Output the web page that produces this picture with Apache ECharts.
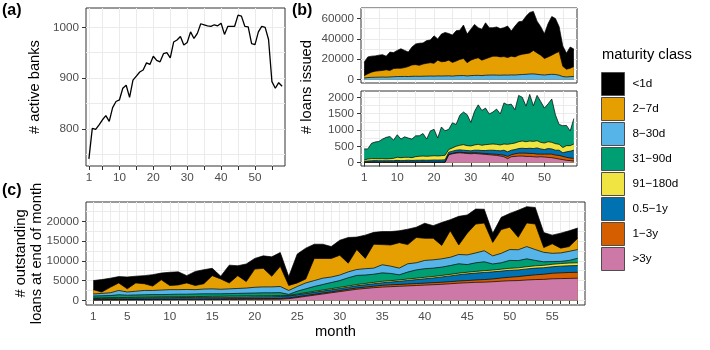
<!DOCTYPE html>
<html lang="en">
<head>
<meta charset="UTF-8">
<title>maturity classes</title>
<script src="https://cdn.jsdelivr.net/npm/echarts@6/dist/echarts.min.js"></script>
<style>html,body{margin:0;padding:0;background:#fff;}</style>
</head>
<body>
<div id="box" style="width:710px;height:350px;"></div>
<script>
var months = [];
for (var i = 1; i <= 58; i++) months.push(i);

var classNames = ['<1d', '2\u22127d', '8\u221230d', '31\u221290d', '91\u2212180d', '0.5\u22121y', '1\u22123y', '>3y'];
var classColors = ['#000000', '#E69F00', '#56B4E9', '#009E73', '#F0E442', '#0072B2', '#D55E00', '#CC79A7'];

// (a) active banks
var activeBanks = [741,801,799,808,818,826,815,842,854,857, 880,886,862,896,904,912,916,930,927,943,
    935,932,948,950,940,971,975,982,965,970, 991,978,988,1007,1005,1003,1002,1005,1003,1008,
    986,1002,1002,1002,1024,1022,1002,1001,968,966, 991,1002,1000,976,893,880,891,884];

// (b) loans issued, short maturities (upper panel)
var issuedLt1d = [13200,16600,15700,15000,15400,15500,13400,18000,15700,17500, 19100,16900,14200,17600,20300,21700,20700,22300,22400,27000,
    20900,27200,28400,26200,26800,29800,28700,32900,28100,30400, 33800,29600,30400,35400,29300,28000,28700,27800,28400,30900,
    24800,30300,32800,32500,36700,39800,38300,31200,28000,24300, 32700,38000,34000,24500,20000,15800,20800,17200];
var issued2to7d = [2300,3700,5100,6000,6200,6500,7200,6400,8000,8200, 8200,8700,9800,11200,11400,10800,12000,12600,13100,12600,
    15500,14000,14300,15400,13500,14400,15900,16700,13000,15200, 16300,17200,15200,16100,17300,18500,18600,18000,18100,17300,
    18400,17800,19200,19900,20300,20700,23100,21000,19200,16200, 17400,18800,21000,23200,10000,7600,8300,9700];
var issued8to30d = [1500,2000,2200,2300,2400,2500,2400,2600,2800,3000, 3000,3100,3000,3200,3300,3200,3300,3400,3500,3400,
    3600,3500,3600,3700,3400,3800,3900,4000,3600,3900, 4100,4200,3900,4300,4400,4500,4400,4300,4500,4400,
    4600,4500,4800,5000,5200,5500,5600,5200,4800,4500, 4900,5200,5000,4300,3000,2600,2900,3100];

// (b) loans issued, longer maturities (lower panel)
var issued31to90d = [340,310,470,510,530,600,660,680,560,690, 570,630,590,570,640,630,690,530,770,810,
    550,880,750,620,770,670,920,1000,950,720, 1030,1210,1070,1120,930,980,1080,950,1260,1210,
    1210,1020,1420,1340,1090,1430,1090,1390,1250,1070, 1160,1330,880,610,670,620,450,780];
var issued91to180d = [40,60,65,60,60,60,55,60,70,95, 90,95,90,85,110,120,125,120,125,130,
    125,130,140,80,100,120,140,170,150,150, 160,180,160,180,180,190,190,180,190,230,
    200,200,210,220,210,220,220,220,200,200, 210,200,200,180,160,190,170,190];
var issued05to1y = [25,35,40,45,45,45,40,45,45,50, 45,50,55,50,55,55,60,55,60,65,
    60,65,65,65,65,70,70,70,70,65, 75,85,85,90,110,120,115,120,150,140,
    140,130,140,150,140,160,150,190,160,140, 170,160,150,160,110,170,210,250];
var issued1to3y = [10,10,12,10,8,10,12,10,10,12, 10,10,12,10,10,12,10,12,10,10,
    12,10,12,15,15,20,20,20,20,25, 25,25,25,30,30,30,35,40,50,70,
    60,80,90,90,100,90,100,90,80,90, 100,110,100,110,100,90,80,80];
var issuedGt3y = [4,5,5,6,5,5,6,5,5,6, 5,5,6,5,6,5,6,5,6,5,
    6,6,8,240,270,290,300,290,280,270, 280,270,260,250,240,230,220,200,180,120,
    180,190,200,200,190,190,180,170,180,170, 160,150,130,110,90,70,60,50];

// (c) outstanding loans at end of month
var outLt1d = [2300,3150,2300,1600,3000,1700,2050,2900,1700,3350, 3300,1850,3550,3550,1850,700,4500,2500,4450,2700,
    3150,4900,3500,2250,7300,7800,3600,3600,3000,3800, 6500,3150,5900,3000,3300,3400,3000,3900,2600,3800,
    3200,5800,2800,7250,4600,3800,3500,2300,3100,3500, 6850,4100,4200,3800,2200,3800,4000,2600];
var out2to7d = [1100,350,1400,1900,800,2100,1700,1100,2600,1050, 1200,1650,1050,1350,3350,2600,1500,3250,1650,4600,
    4700,2700,5100,1250,900,1000,5600,5000,4700,5000, 2200,5050,2600,6050,5100,5350,6450,4850,6400,5600,
    5450,3400,6700,2400,5500,7300,7000,3400,6000,5650, 3150,6000,6450,1200,2400,1200,1200,2850];
var out8to30d = [500,600,700,1100,800,950,1100,1050,1150,1200, 1150,1200,1100,1200,1250,1150,1200,1250,1300,1450,
    1500,1500,1550,1000,1200,1500,1500,1600,1400,1400, 1500,1500,1600,1550,2050,1850,1700,2100,1800,2100,
    2100,2100,2100,2350,2450,2500,2800,2050,2400,2750, 2750,3100,2750,2400,2100,2150,2300,2200];
var out31to90d = [510,510,520,700,580,590,610,630,600,640, 640,630,650,670,640,630,630,670,680,710,
    740,710,720,260,710,960,1220,1390,1560,1720, 2070,2310,2150,2070,2150,1820,1280,1760,2100,2180,
    2120,2100,2240,2370,1950,2180,2260,1540,1620,2000, 1830,2000,1370,900,680,550,670,1150];
var out91to180d = [150,160,170,170,180,180,190,190,200,200, 210,210,220,220,230,230,240,240,250,250,
    260,260,270,150,200,230,250,270,280,290, 300,310,320,340,350,350,350,360,360,370,
    370,380,380,390,400,420,440,460,480,500, 520,550,580,600,620,650,680,700];
var out05to1y = [300,320,330,350,340,360,370,380,380,390, 400,400,410,420,420,430,440,440,450,460,
    460,470,480,470,480,490,500,500,510,520, 530,560,590,620,650,720,800,900,1000,1100,
    1200,1350,1450,1600,1700,1750,1800,1800,1750,1750, 1700,1700,1700,1650,1650,1700,1700,1700];
var out1to3y = [80,90,100,100,110,110,120,120,130,130, 140,140,150,150,160,160,170,170,180,180,
    190,190,200,200,210,220,230,240,250,270, 300,320,340,370,450,460,470,480,490,500,
    510,520,530,540,550,600,650,700,800,900, 1000,1100,1200,1300,1400,1450,1500,1500];
var outGt3y = [60,70,80,80,90,110,110,130,140,140, 160,170,170,190,200,200,220,230,240,250,
    250,270,280,420,700,1000,1300,1600,1900,2200, 2500,2800,3000,3200,3350,3450,3550,3650,3750,3850,
    3950,4050,4200,4350,4450,4550,4600,4700,4850,4950, 5000,5150,5250,5300,5450,5500,5550,5600];

// axis breaks / labels
var ticksAB = [1,5,10,15,20,25,30,35,40,45,50,55];
var labelsAB = [1,10,20,30,40,50];
var labelsC = [1,5,10,15,20,25,30,35,40,45,50,55];
var yTicksA = [800,900,1000];
var yGridA = [750,800,850,900,950,1000];
var yTicksB1 = [0,20000,40000,60000];
var yGridB1 = [0,10000,20000,30000,40000,50000,60000,70000];
var yTicksB2 = [0,500,1000,1500,2000];
var yGridB2 = [0,250,500,750,1000,1250,1500,1750,2000];
var yTicksC = [0,5000,10000,15000,20000];
var yGridC = [0,2500,5000,7500,10000,12500,15000,17500,20000,22500];

var FONT = 'Liberation Sans, Arial, Helvetica, sans-serif';
var chart = echarts.init(document.getElementById('box'));

function pairs(arr) {
    return months.map(function (m, i) { return [m, arr[i]]; });
}

function plain(v) { return String(v); }

function xAx(gi, ticks, labels, showTicks) {
    return {
        type: 'value', gridIndex: gi, min: 0.145, max: 58.855,
        axisLine: {show: false},
        axisTick: {show: showTicks, length: 4, lineStyle: {color: '#333', width: 1}, customValues: ticks},
        axisLabel: {show: !!labels, customValues: labels || [], formatter: plain, color: '#4D4D4D', fontSize: 11.7, margin: 6, fontFamily: FONT},
        splitLine: {show: true, lineStyle: {color: '#EBEBEB', width: 1}}
    };
}

function yAx(gi, min, max, ticks) {
    return {
        type: 'value', gridIndex: gi, min: min, max: max, position: 'left',
        axisLine: {show: false},
        axisTick: {show: true, length: 4, lineStyle: {color: '#333', width: 1}, customValues: ticks},
        axisLabel: {customValues: ticks, formatter: plain, color: '#4D4D4D', fontSize: 11.7, margin: 7, fontFamily: FONT},
        splitLine: {show: false},
        nameMoveOverlap: false
    };
}

function yGrid(gi, min, max, vals) {
    return {
        type: 'value', gridIndex: gi, min: min, max: max, position: 'right',
        axisLine: {show: false},
        axisTick: {show: false, customValues: vals},
        axisLabel: {show: false},
        splitLine: {show: true, lineStyle: {color: '#EBEBEB', width: 1}}
    };
}

// stack the classes (bottom layer first) and draw from the top layer down
function stackedAreas(list, xi, yi) {
    var run = months.map(function () { return 0; });
    var layers = list.map(function (item) {
        run = run.map(function (v, i) { return v + item.values[i]; });
        return {cls: item.cls, top: run.slice()};
    });
    return layers.reverse().map(function (l) {
        var c = classColors[classNames.indexOf(l.cls)];
        return {
            type: 'line', name: l.cls, xAxisIndex: xi, yAxisIndex: yi,
            symbol: 'none', data: pairs(l.top),
            lineStyle: {color: '#000', width: 0.7},
            itemStyle: {color: c},
            areaStyle: {color: c, opacity: 1},
            emphasis: {disabled: true}
        };
    });
}

var yAxes = [
    yAx(0, 727, 1038, yTicksA), yGrid(0, 727, 1038, yGridA),
    yAx(1, -3350, 70350, yTicksB1), yGrid(1, -3350, 70350, yGridB1),
    yAx(2, -104.5, 2194.5, yTicksB2), yGrid(2, -104.5, 2194.5, yGridB2),
    yAx(3, -1185, 24885, yTicksC), yGrid(3, -1185, 24885, yGridC)
];
yAxes[0].name = '# active banks';
yAxes[0].nameLocation = 'middle';
yAxes[0].nameGap = 44;
yAxes[0].nameTextStyle = {fontSize: 14.7, color: '#000', fontFamily: FONT};
yAxes[6].name = '# outstanding\nloans at end of month';
yAxes[6].nameLocation = 'middle';
yAxes[6].nameGap = 41;
yAxes[6].nameTextStyle = {fontSize: 14.7, color: '#000', lineHeight: 16, fontFamily: FONT};

var xAxes = [
    xAx(0, ticksAB, labelsAB, true),
    xAx(1, ticksAB, null, false),
    xAx(2, ticksAB, labelsAB, true),
    xAx(3, months, labelsC, true)
];
xAxes[3].name = 'month';
xAxes[3].nameLocation = 'middle';
xAxes[3].nameGap = 19;
xAxes[3].nameMoveOverlap = false;
xAxes[3].nameTextStyle = {fontSize: 14.7, color: '#000', fontFamily: FONT};

var gridStyle = {show: true, borderColor: '#333', borderWidth: 1, backgroundColor: '#fff', containLabel: false, outerBoundsMode: 'none'};
function grid(l, t, w, h) {
    return Object.assign({left: l, top: t, width: w, height: h}, gridStyle);
}

var series = [{
    type: 'line', name: 'active', xAxisIndex: 0, yAxisIndex: 0, symbol: 'none',
    data: pairs(activeBanks), lineStyle: {color: '#000', width: 1.3}, itemStyle: {color: '#000'},
    emphasis: {disabled: true}
}];
series = series.concat(stackedAreas([
    {cls: classNames[2], values: issued8to30d},
    {cls: classNames[1], values: issued2to7d},
    {cls: classNames[0], values: issuedLt1d}
], 1, 2));
series = series.concat(stackedAreas([
    {cls: classNames[7], values: issuedGt3y},
    {cls: classNames[6], values: issued1to3y},
    {cls: classNames[5], values: issued05to1y},
    {cls: classNames[4], values: issued91to180d},
    {cls: classNames[3], values: issued31to90d}
], 2, 4));
series = series.concat(stackedAreas([
    {cls: classNames[7], values: outGt3y},
    {cls: classNames[6], values: out1to3y},
    {cls: classNames[5], values: out05to1y},
    {cls: classNames[4], values: out91to180d},
    {cls: classNames[3], values: out31to90d},
    {cls: classNames[2], values: out8to30d},
    {cls: classNames[1], values: out2to7d},
    {cls: classNames[0], values: outLt1d}
], 3, 6));

var option = {
    animation: false,
    textStyle: {fontFamily: FONT},
    grid: [grid(86, 8, 199, 158), grid(361, 8, 216, 75), grid(361, 91, 216, 75), grid(86, 202, 499, 103)],
    xAxis: xAxes,
    yAxis: yAxes,
    legend: {
        orient: 'vertical', left: 601, top: 72, padding: 0,
        itemWidth: 23, itemHeight: 23, itemGap: 1, selectedMode: false,
        textStyle: {fontSize: 11.7, color: '#000', fontFamily: FONT, padding: [0, 0, 0, 3]},
        data: classNames.map(function (n, i) {
            return {name: n, icon: 'rect', itemStyle: {color: classColors[i], borderColor: '#4D4D4D', borderWidth: 1}};
        })
    },
    graphic: [
        {type: 'text', left: 2, top: 3, style: {text: '(a)', font: 'bold 16px ' + FONT, fill: '#000'}},
        {type: 'text', left: 292, top: 3, style: {text: '(b)', font: 'bold 16px ' + FONT, fill: '#000'}},
        {type: 'text', left: 2, top: 183, style: {text: '(c)', font: 'bold 16px ' + FONT, fill: '#000'}},
        {type: 'text', x: 307, y: 87, rotation: Math.PI / 2,
            style: {text: '# loans issued', font: '14.7px ' + FONT, fill: '#000', align: 'center', verticalAlign: 'middle'}},
        {type: 'text', left: 602, top: 47, style: {text: 'maturity class', font: '14.7px ' + FONT, fill: '#000'}}
    ],
    series: series
};
chart.setOption(option);
</script>
</body>
</html>
